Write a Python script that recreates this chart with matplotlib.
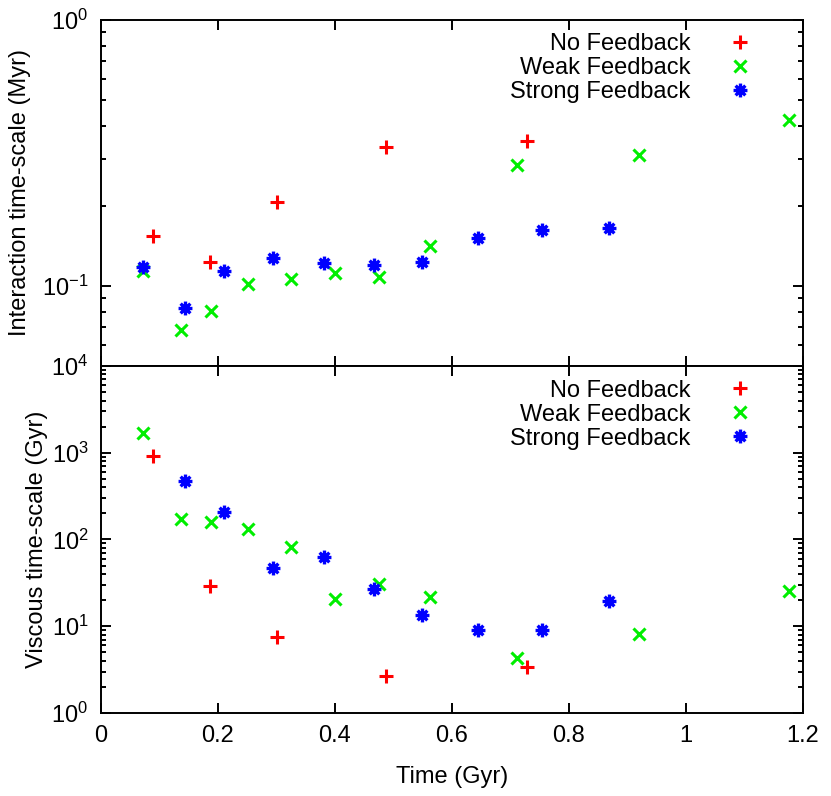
import numpy as np
import matplotlib
matplotlib.use('Agg')
import matplotlib.pyplot as plt
from matplotlib.path import Path
from matplotlib.ticker import LogLocator, FuncFormatter, NullFormatter, MultipleLocator, NullLocator

plt.rcParams['font.family'] = 'Liberation Sans'
plt.rcParams['mathtext.fontset'] = 'custom'
plt.rcParams['mathtext.rm'] = 'Liberation Sans'
plt.rcParams['mathtext.it'] = 'Liberation Sans'
plt.rcParams['font.size'] = 17
plt.rcParams['axes.linewidth'] = 1.4

#------------------------------------------------------------------------------
# Interaction time-scale (Myr), top panel
t_int_no     = [0.089, 0.186, 0.301, 0.488, 0.728]
int_no       = [0.154, 0.1227, 0.207, 0.332, 0.352]
t_int_weak   = [0.072, 0.136, 0.188, 0.251, 0.324, 0.400, 0.476, 0.563, 0.711, 0.920, 1.176]
int_weak     = [0.1141, 0.0684, 0.0808, 0.1017, 0.1062, 0.1116, 0.1084, 0.1416, 0.2847, 0.312, 0.421]
t_int_strong = [0.072, 0.143, 0.211, 0.294, 0.381, 0.466, 0.549, 0.644, 0.754, 0.868]
int_strong   = [0.1175, 0.0827, 0.1135, 0.127, 0.1223, 0.120, 0.123, 0.151, 0.162, 0.165]

# Viscous time-scale (Gyr), bottom panel
t_vis_no     = [0.089, 0.186, 0.301, 0.488, 0.728]
vis_no       = [922, 29, 7.5, 2.67, 3.43]
t_vis_weak   = [0.072, 0.136, 0.188, 0.251, 0.324, 0.400, 0.476, 0.563, 0.711, 0.920, 1.176]
vis_weak     = [1702, 170, 161, 133, 81, 20.7, 31, 21.8, 4.35, 8.2, 25.8]
t_vis_strong = [0.143, 0.211, 0.294, 0.381, 0.466, 0.549, 0.644, 0.754, 0.868]
vis_strong   = [467, 207, 46.3, 62, 27, 13.4, 9.07, 9.07, 19.3]

labels = ['No Feedback', 'Weak Feedback', 'Strong Feedback']

# plotting settings
c_no, c_weak, c_strong = '#ff0000', '#00ee00', '#0000ff'
msize = 9
mew = 2.2

# gnuplot-like '*' : a '+' and an 'x' on top of each other
star = Path([(-1, 0), (1, 0), (0, -1), (0, 1),
             (-0.7, -0.7), (0.7, 0.7), (-0.7, 0.7), (0.7, -0.7)],
            [Path.MOVETO, Path.LINETO] * 4)

fig = plt.figure(figsize=(8.31, 7.96), dpi=100)
ax1 = fig.add_axes([0.1215, 0.5402, 0.8448, 0.4347])
ax2 = fig.add_axes([0.1215, 0.1043, 0.8448, 0.4359])


def sci(v, p):
    e = int(round(np.log10(v)))
    return r'$10^{%d}$' % e


def draw(ax, tn, yn, tw, yw, ts, ys):
    ax.plot(tn, yn, linestyle='', marker='+', color=c_no, markersize=msize+1,
            markeredgewidth=mew, label=labels[0])
    ax.plot(tw, yw, linestyle='', marker='x', color=c_weak, markersize=msize,
            markeredgewidth=mew, label=labels[1])
    ax.plot(ts, ys, linestyle='', marker=star, color=c_strong, markersize=msize+1,
            markeredgewidth=mew+0.2, label=labels[2])
    ax.set_yscale('log')
    ax.set_xlim(0, 1.2)
    ax.xaxis.set_major_locator(MultipleLocator(0.2))
    ax.xaxis.set_minor_locator(NullLocator())
    ax.yaxis.set_major_locator(LogLocator(base=10))
    ax.yaxis.set_minor_locator(LogLocator(base=10, subs=np.arange(2, 10)))
    ax.yaxis.set_major_formatter(FuncFormatter(sci))
    ax.yaxis.set_minor_formatter(NullFormatter())
    ax.tick_params(which='both', direction='in', top=True, right=True, width=1.4)
    ax.tick_params(which='major', length=7.5, pad=9)
    ax.tick_params(which='minor', length=3.8)
    leg = ax.legend(loc='upper right', bbox_to_anchor=(0.944, 0.961), frameon=False,
                    markerfirst=False, handletextpad=1.12, handlelength=2.0,
                    labelspacing=0.085, borderpad=0, borderaxespad=0, numpoints=1)
    return leg


draw(ax1, t_int_no, int_no, t_int_weak, int_weak, t_int_strong, int_strong)
ax1.set_ylim(0.05, 1)
ax1.tick_params(axis='x', labelbottom=False)
ax1.set_ylabel('Interaction time-scale (Myr)')
ax1.yaxis.set_label_coords(-0.099, 0.5)

draw(ax2, t_vis_no, vis_no, t_vis_weak, vis_weak, t_vis_strong, vis_strong)
ax2.set_ylim(1, 1e4)
ax2.xaxis.set_major_formatter(FuncFormatter(lambda v, p: '%g' % round(v, 2)))
ax2.set_ylabel('Viscous time-scale (Gyr)')
ax2.yaxis.set_label_coords(-0.076, 0.5)
ax2.set_xlabel('Time (Gyr)')
ax2.xaxis.set_label_coords(0.5, -0.154)

plt.savefig('out.png', dpi=100)
